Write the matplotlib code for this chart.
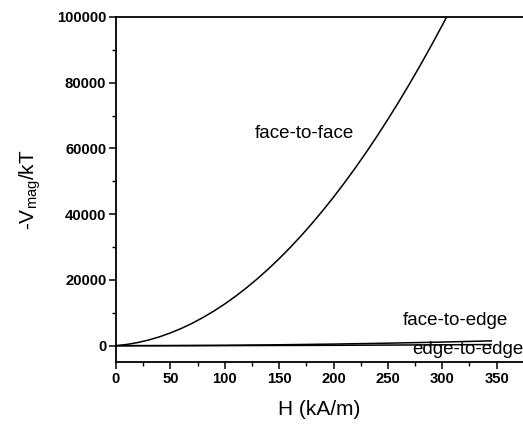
import matplotlib
matplotlib.use("Agg")
import matplotlib.pyplot as plt
from matplotlib.ticker import MultipleLocator

plt.rcParams['font.family'] = ['Liberation Sans', 'DejaVu Sans']

# Field H (kA/m)
H_ff = [0, 10, 20, 30, 40, 50, 60, 70, 80, 90, 100, 110, 120, 130, 140, 150,
        160, 170, 180, 190, 200, 210, 220, 230, 240, 250, 260, 270, 280, 290,
        300, 310]
# -V_mag/kT, face-to-face
V_ff = [0, 380, 960, 1730, 2700, 3880, 5240, 6810, 8580, 10540, 12700, 15060,
        17620, 20370, 23320, 26480, 29820, 33370, 37120, 41060, 45200, 49540,
        54080, 58810, 63740, 68880, 74200, 79730, 85460, 91380, 97500, 103820]

H_small = [0, 50, 100, 150, 200, 250, 300, 345]
V_fe = [0, 30, 120, 280, 490, 770, 1100, 1470]   # face-to-edge
V_ee = [0, 8, 30, 70, 120, 190, 270, 350]       # edge-to-edge

labels = ["face-to-face", "face-to-edge", "edge-to-edge"]

fig = plt.figure(figsize=(5.23, 4.25), dpi=100)
ax = fig.add_axes([116/523, 1-362/425, 1-116/523, (362-17)/425])

ax.plot(H_ff, V_ff, color='black', lw=1.1)
ax.plot(H_small, V_fe, color='black', lw=1.1)
ax.plot(H_small, V_ee, color='black', lw=1.1)

ax.set_xlim(0, 374.2)
ax.set_ylim(-4960, 100000)

ax.spines['right'].set_visible(False)
for s in ['left', 'bottom', 'top']:
    ax.spines[s].set_linewidth(1.3)

ax.xaxis.set_major_locator(MultipleLocator(50))
ax.xaxis.set_minor_locator(MultipleLocator(25))
ax.yaxis.set_major_locator(MultipleLocator(20000))
ax.yaxis.set_minor_locator(MultipleLocator(10000))
ax.tick_params(which='major', direction='out', length=5, width=1.1, labelsize=10.7, pad=2)
ax.tick_params(which='minor', direction='out', length=3, width=1.0)
ax.tick_params(top=False, right=False, which='both')
for lab in ax.get_xticklabels() + ax.get_yticklabels():
    lab.set_fontweight('bold')

ax.set_xlabel("H (kA/m)", fontsize=15, labelpad=10)
ax.set_ylabel(r"-V$_{\mathregular{mag}}$/kT", fontsize=15, labelpad=10)

ax.text(127.8, 64700, labels[0], fontsize=13.5, ha='left', va='center')
ax.text(264, 7800, labels[1], fontsize=13.5, ha='left', va='center')
ax.text(272, -1300, labels[2], fontsize=13.5, ha='left', va='center')

fig.savefig("out.png", dpi=100)
